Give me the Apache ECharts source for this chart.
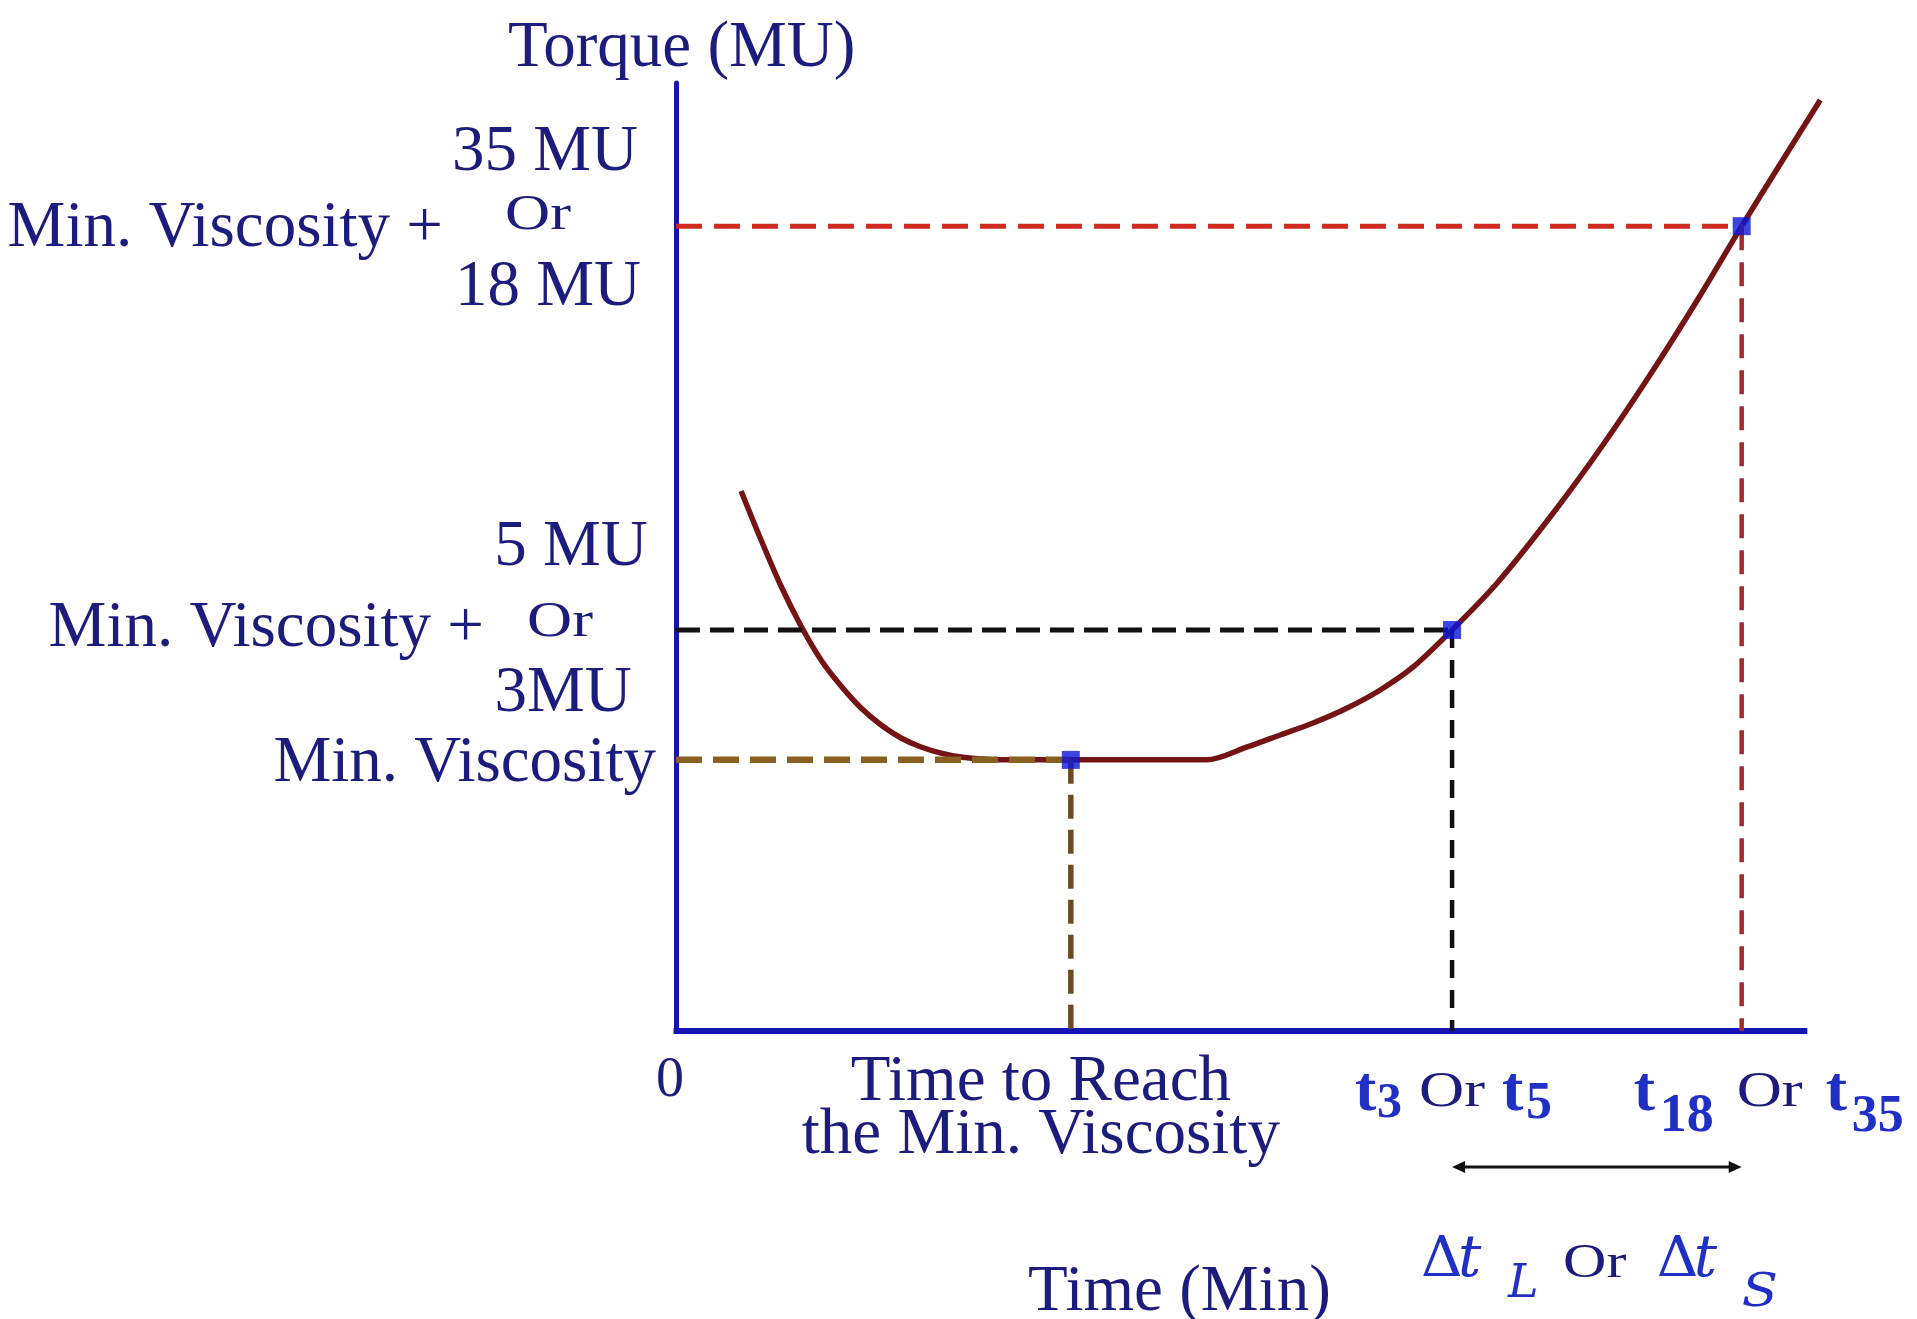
<!DOCTYPE html>
<html><head><meta charset="utf-8">
<script src="https://cdn.jsdelivr.net/npm/echarts@6/dist/echarts.min.js"></script>
<style>html,body{margin:0;padding:0;background:#fff}#c{width:1917px;height:1319px}</style>
</head><body><div id="c"></div>
<script>
// ---- data (schematic units: time 0-100, torque 0-100) ----
const curveTime   = [5.75, 7.52, 9.28, 11.05, 12.82, 14.59, 16.36, 18.13, 19.89, 21.66, 23.43, 25.2, 26.97, 28.65, 34.9, 46.9, 50.49, 53.4, 56.32, 59.33, 62.25, 65.16, 68.6, 72.59, 77.54, 81.87, 86.21, 90.45, 94.2, 98.05, 101.15];
const curveTorque = [56.96, 51.79, 46.94, 42.72, 39.14, 36.39, 34.07, 32.28, 30.91, 29.96, 29.32, 28.9, 28.69, 28.6, 28.6, 28.6, 29.96, 31.22, 32.49, 34.07, 35.97, 38.4, 42.3, 47.26, 54.64, 61.71, 69.41, 77.43, 84.9, 92.3, 98.2];
const markNames   = ['Min. Viscosity', 't3 Or t5', 't18 Or t35'];
const markTimes   = [34.9, 68.6, 94.2];
const markTorques = [28.6, 42.3, 84.9];
const torqueRange = [0, 100];
const timeAxisEnd = 100;      // where the drawn time axis stops
const timeScaleMax = 101.3;   // scale extent (curve runs slightly past the axis end)

const NAVY = '#1c1c7c', BLUE = '#2030c4', AXIS = '#1414b4', CURVE = '#741414', MARK = '#0c16d8';
const FONT = 'Liberation Serif', MATH = 'DejaVu Serif';

const guideStyles = [
  {h: {color: '#8a5f22', width: 6.5, type: [26, 11]}, v: {color: '#6e4b1e', width: 5.5, type: [24, 11]}},
  {h: {color: '#111111', width: 5,   type: [24, 10]}, v: {color: '#111111', width: 4.5, type: [18, 12]}},
  {h: {color: '#cf2b1f', width: 5,   type: [26, 12]}, v: {color: '#a52a2a', width: 4.5, type: [24, 12]}}
];

const series = [];
series.push({
  type: 'line', name: 'Torque', data: curveTime.map((t, i) => [t, curveTorque[i]]),
  smooth: 0.3, symbol: 'none', clip: false, z: 3, silent: true,
  lineStyle: {color: CURVE, width: 5.5}
});
markTimes.forEach((t, i) => {
  const T = markTorques[i];
  series.push({type: 'line', name: markNames[i] + ' level', data: [[0, T], [t, T]], symbol: 'none', z: 4, silent: true, lineStyle: guideStyles[i].h});
  series.push({type: 'line', name: markNames[i] + ' time', data: [[t, T], [t, 0]], symbol: 'none', z: 4, silent: true, lineStyle: guideStyles[i].v});
});
series.push({
  type: 'scatter', name: 'points', data: markTimes.map((t, i) => [t, markTorques[i]]),
  symbol: 'rect', symbolSize: 18, z: 6, silent: true, itemStyle: {color: MARK}
});

const chart = echarts.init(document.getElementById('c'), null, {renderer: 'canvas'});
chart.setOption({
  animation: false,
  backgroundColor: '#ffffff',
  grid: {left: 676, right: 95, top: 83, bottom: 288, containLabel: false},
  xAxis: {
    type: 'value', min: 0, max: timeScaleMax, interval: 100,
    axisLine: {show: false},
    axisTick: {show: false}, splitLine: {show: false},
    axisLabel: {show: true, margin: 22, fontSize: 56, fontFamily: FONT, color: NAVY, padding: [0, 12, 0, 0],
      formatter: v => (v === 0 ? '0' : '')}
  },
  yAxis: {
    type: 'value', min: torqueRange[0], max: torqueRange[1],
    axisLine: {show: true, lineStyle: {color: AXIS, width: 5}},
    axisTick: {show: false}, splitLine: {show: false}, axisLabel: {show: false}
  },
  series: series
});

// ---- annotations positioned from the chart's own scales ----
const P = (x, y) => chart.convertToPixel({gridIndex: 0}, [x, y]);
const o = P(0, 0);
const xEnd = P(timeAxisEnd, 0)[0];
const topY = P(0, torqueRange[1])[1];
const yMin = P(0, markTorques[0])[1], yT3 = P(0, markTorques[1])[1], yT18 = P(0, markTorques[2])[1];
const xMin = P(markTimes[0], 0)[0], xT3 = P(markTimes[1], 0)[0], xT18 = P(markTimes[2], 0)[0];

function T(text, x, baseline, size, align, opt) {
  opt = opt || {};
  const k = opt.k != null ? opt.k : (size >= 60 ? 0.215 : 0.29);
  return {
    type: 'text', x: x, y: baseline - k * size, scaleX: opt.sx || 1, z: 10, silent: true,
    style: {
      text: text, fontSize: size, fontFamily: opt.font || FONT, fontWeight: opt.bold ? 'bold' : 'normal',
      fontStyle: opt.italic ? 'italic' : 'normal',
      fill: opt.color || NAVY, align: align, verticalAlign: 'middle'
    }
  };
}
const OR = {sx: 1.25};
const g = [];
// time axis line (stops at the axis end, the curve runs a little past it)
g.push({type: 'line', z: 1, silent: true, shape: {x1: o[0] - 2.5, y1: o[1], x2: xEnd, y2: o[1]}, style: {stroke: AXIS, lineWidth: 6}});
// axis title
g.push(T('Torque (MU)', o[0] - 168, topY - 20, 65, 'left'));
// upper level labels
g.push(T('35 MU', o[0] - 131, yT18 - 59, 65, 'center'));
g.push(T('Or', o[0] - 138, yT18 + 4, 50, 'center', OR));
g.push(T('18 MU', o[0] - 128, yT18 + 76, 65, 'center'));
g.push(T('Min. Viscosity +', o[0] - 233, yT18 + 17, 65, 'right'));
// middle level labels
g.push(T('5 MU', o[0] - 105, yT3 - 68, 65, 'center'));
g.push(T('Or', o[0] - 116, yT3 + 7, 50, 'center', OR));
g.push(T('3MU', o[0] - 113, yT3 + 78, 65, 'center'));
g.push(T('Min. Viscosity +', o[0] - 192, yT3 + 13, 65, 'right'));
// min level label
g.push(T('Min. Viscosity', o[0] - 20, yMin + 18, 65, 'right'));
// time labels
g.push({
  type: 'text', x: xMin - 30, y: o[1] + 78, z: 10, silent: true,
  style: {text: 'Time to Reach\nthe Min. Viscosity', fontSize: 65, fontFamily: FONT, fill: NAVY,
    align: 'center', verticalAlign: 'middle', lineHeight: 53}
});
const tb = o[1] + 76;        // baseline of t labels
const B = {bold: true, color: BLUE};
g.push(T('t', xT3 - 97, tb, 64, 'left', B));
g.push(T('3', xT3 - 75, tb + 12, 50, 'left', B));
g.push(T('Or', xT3 - 33, tb, 50, 'left', OR));
g.push(T('t', xT3 + 50, tb, 64, 'left', B));
g.push(T('5', xT3 + 74, tb + 13, 52, 'left', B));
g.push(T('t', xT18 - 108, tb, 64, 'left', B));
g.push(T('18', xT18 - 82, tb + 26, 54, 'left', B));
g.push(T('Or', xT18 - 5, tb, 50, 'left', OR));
g.push(T('t', xT18 + 84, tb, 64, 'left', B));
g.push(T('35', xT18 + 110, tb + 26, 52, 'left', B));
// arrow between t3 and t18
const ay = o[1] + 136;
g.push({type: 'line', z: 10, silent: true, shape: {x1: xT3 + 4, y1: ay, x2: xT18 - 4, y2: ay}, style: {stroke: '#111', lineWidth: 3}});
g.push({type: 'polygon', z: 10, silent: true, shape: {points: [[xT3, ay], [xT3 + 13, ay - 6], [xT3 + 13, ay + 6]]}, style: {fill: '#111'}});
g.push({type: 'polygon', z: 10, silent: true, shape: {points: [[xT18, ay], [xT18 - 13, ay - 6], [xT18 - 13, ay + 6]]}, style: {fill: '#111'}});
// delta label
const db = o[1] + 247;
const M = {font: MATH, color: BLUE, k: 0.3};
const MI = {font: MATH, color: BLUE, italic: true, k: 0.3};
g.push(T('\u0394', xT3 - 31, db, 56, 'left', Object.assign({sx: 1.03}, M)));
g.push(T('t', xT3 + 6, db, 58, 'left', MI));
g.push(T('L', xT3 + 56, db + 21, 46, 'left', MI));
g.push(T('Or', xT3 + 111, db, 48, 'left', OR));
g.push(T('\u0394', xT18 - 85, db, 56, 'left', Object.assign({sx: 1.03}, M)));
g.push(T('t', xT18 - 48, db, 58, 'left', MI));
g.push(T('S', xT18 + 0, db + 30, 46, 'left', Object.assign({sx: 1.15}, MI)));
// x axis title
g.push(T('Time (Min)', o[0] + 352, o[1] + 276, 65, 'left'));

chart.setOption({graphic: g});
</script>
</body></html>
